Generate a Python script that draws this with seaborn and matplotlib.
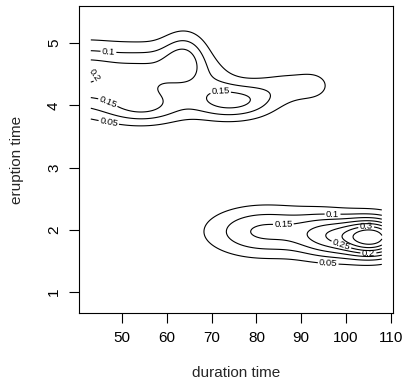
import numpy as np
import matplotlib
matplotlib.use("Agg")
import matplotlib.pyplot as plt
import seaborn as sns

# density bumps (x = duration time, y = eruption time)
peak_x   = [41, 57, 64, 55, 73.5, 70, 80, 88, 93, 82, 96, 106]
peak_y   = [4.45, 4.55, 4.75, 3.97, 4.06, 4.45, 4.1, 4.3, 4.33, 1.97, 1.9, 1.88]
spread_x = [9, 6, 3.5, 6.5, 6, 4, 4, 6, 2.5, 9, 5, 5]
spread_y = [0.36, 0.3, 0.3, 0.2, 0.21, 0.25, 0.2, 0.22, 0.15, 0.28, 0.25, 0.22]
peak_h   = [0.2, 0.11, 0.13, 0.13, 0.15, 0.05, 0.035, 0.065, 0.03, 0.16, 0.16, 0.37]

levels  = [0.05, 0.1, 0.15, 0.2, 0.25, 0.3, 0.35]
x_range = (43, 108)
y_range = (0.84, 5.42)
x_ticks = [50, 60, 70, 80, 90, 100, 110]
y_ticks = [1, 2, 3, 4, 5]

# where the contour labels sit in the original
label_spots = [(47, 4.92), (43.6, 4.45), (47, 4.08), (47, 3.72), (72, 4.12),
               (86, 2.12), (97, 2.25), (104.5, 2.05), (99, 1.77), (105, 1.63),
               (96, 1.43)]

sns.set_theme(style="ticks")
plt.rcParams["font.family"] = ["Liberation Sans", "DejaVu Sans"]

gx = np.linspace(*x_range, 260)
gy = np.linspace(*y_range, 260)
X, Y = np.meshgrid(gx, gy)
Z = np.zeros_like(X)
for px, py, sx, sy, h in zip(peak_x, peak_y, spread_x, spread_y, peak_h):
    Z += h * np.exp(-0.5 * (((X - px) / sx) ** 2 + ((Y - py) / sy) ** 2))

fig = plt.figure(figsize=(4.06, 3.88), dpi=100)
ax = fig.add_axes([0.195, 0.193, 0.773, 0.792])
cs = ax.contour(X, Y, Z, levels=levels, colors="black", linewidths=0.8)
ax.clabel(cs, fmt="%g", fontsize=6.8, inline=True, inline_spacing=2,
          manual=label_spots)

ax.set_xlim(40.4, 110.5)
ax.set_ylim(0.66, 5.6)
ax.set_xticks(x_ticks)
ax.set_yticks(y_ticks)
for lab in ax.get_yticklabels():
    lab.set_rotation(90)
    lab.set_va("center")
ax.tick_params(direction="out", length=7, width=0.8, labelsize=11, pad=6,
               colors="black")
for s in ax.spines.values():
    s.set_linewidth(0.8)
    s.set_color("black")
ax.set_xlabel("duration time", fontsize=11, labelpad=15)
ax.set_ylabel("eruption time", fontsize=11, labelpad=17)

fig.savefig("out.png", dpi=100)
